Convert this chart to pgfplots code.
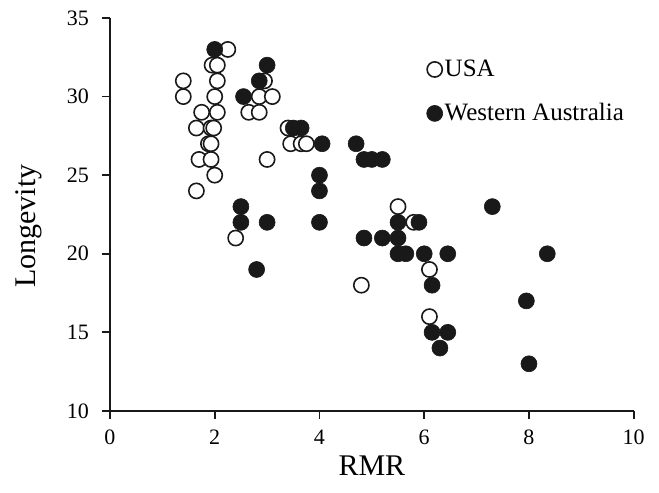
\documentclass[border=0pt]{standalone}
\usepackage{fontspec}
\setmainfont{Liberation Serif}
\usepackage{pgfplots}
\pgfplotsset{compat=1.18}

\pgfplotsset{
  dot/.style={only marks, mark=*,
    legend image code/.code={\draw[##1] plot coordinates {(0pt,0pt)};}},
}

\begin{document}
\begin{tikzpicture}
\begin{axis}[
  scale only axis,
  width=261.9pt, height=196.5pt,
  xmin=0, xmax=10, ymin=10, ymax=35,
  xtick={0,2,...,10}, ytick={10,15,...,35},
  axis lines=left,
  axis line style={-, line width=1pt, black!90},
  tick align=outside, major tick length=4pt,
  tick style={line width=0.9pt, black!90},
  ticklabel style={font=\fontsize{11}{12}\selectfont},
  yticklabel style={xshift=-3pt},
  xticklabel style={yshift=-2pt},
  /pgf/number format/assume math mode=true,
  xlabel={RMR}, ylabel={Longevity},
  label style={font=\fontsize{15}{18}\selectfont},
  xlabel style={at={(axis description cs:0.5,-0.14)}, anchor=center},
  ylabel style={at={(axis description cs:-0.155,0.47)}, anchor=center},
  legend style={at={(axis cs:6.04,32.5)}, anchor=north west, draw=none, fill=none,
    font=\fontsize{12.5}{14}\selectfont, row sep=10pt, inner sep=0pt,
    nodes={inner sep=1pt}},
  legend cell align=left,
]
% USA
\addplot[dot, mark size=3.8pt, mark options={fill=white, draw=black!90, line width=0.8pt}]
coordinates {
(2.25,33)
(1.95,32) (2.05,32)
(1.4,31) (2.05,31) (2.95,31)
(1.4,30) (2.0,30) (2.85,30) (3.1,30)
(1.75,29) (2.05,29) (2.65,29) (2.85,29)
(1.65,28) (1.93,28) (1.98,28) (3.4,28)
(1.88,27) (1.93,27) (3.45,27) (3.65,27) (3.75,27)
(1.7,26) (1.93,26) (3.0,26)
(2.0,25)
(1.65,24)
(2.4,21)
(5.5,23)
(5.8,22)
(6.1,19)
(4.8,18)
(6.1,16)
};
\addlegendentry{USA}
% Western Australia
\addplot[dot, mark size=4pt, mark options={fill=black!90, draw=black!90, line width=0.3pt}]
coordinates {
(2.0,33)
(3.0,32)
(2.85,31)
(2.55,30)
(3.5,28) (3.65,28)
(4.05,27)
(4.0,25) (4.0,24)
(2.5,23) (2.5,22) (3.0,22) (4.0,22)
(2.8,19)
(4.7,27)
(4.85,26) (5.0,26) (5.2,26)
(7.3,23)
(5.5,22) (5.9,22)
(4.85,21) (5.2,21) (5.5,21)
(5.5,20) (5.65,20) (6.0,20) (6.45,20) (8.35,20)
(6.15,18)
(7.95,17)
(6.15,15) (6.45,15)
(6.3,14)
(8.0,13)
};
\addlegendentry{Western Australia}
\end{axis}
\pgfresetboundingbox
\path ([shift={(-55pt,-41pt)}]current axis.south west) rectangle ([shift={(12.65pt,9pt)}]current axis.north east);
\end{tikzpicture}
\end{document}
